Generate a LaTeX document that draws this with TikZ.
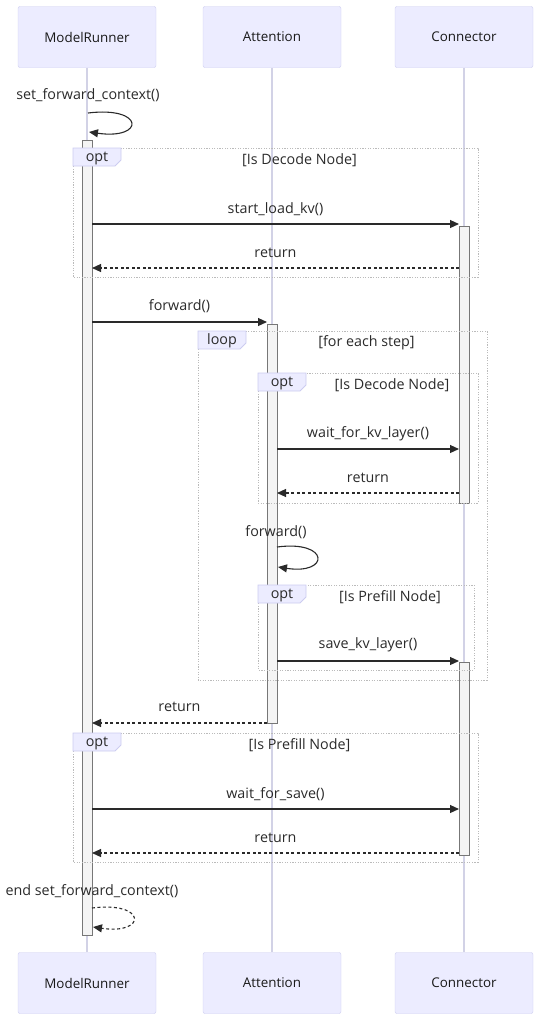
\documentclass[tikz,border=0pt]{standalone}
\usepackage{fontspec}
\setmainfont{Open Sans}
\usepackage{xcolor}
\usetikzlibrary{calc, arrows.meta, positioning}

\definecolor{actorfill}{HTML}{ECECFF}
\definecolor{actorline}{HTML}{CCCCF0}
\definecolor{lifecol}{HTML}{D2D2E6}
\definecolor{msgcol}{HTML}{2A2A2A}
\definecolor{actfill}{HTML}{F4F4F4}
\definecolor{actline}{HTML}{777777}
\definecolor{framecol}{HTML}{BBBBBB}

\tikzset{
	txt/.style = {font = \fontsize{14.3}{16}\selectfont, text = msgcol, inner sep = 0},
	actor/.style = {txt, font = \fontsize{13.4}{15}\selectfont, text = black!90, draw = actorline, fill = actorfill, rounded corners = 2pt, minimum width = 138, minimum height = 61},
	lifeline/.style = {draw = lifecol, line width = 1.3pt},
	activation/.style = {draw = actline, fill = actfill, line width = 0.8pt},
	frame/.style = {draw = framecol, line width = 0.9pt, dash pattern = on 1.2pt off 1.4pt},
	tag/.style = {draw = actorline, fill = actorfill, line width = 0.8pt},
	msg/.style = {draw = msgcol, line width = 1.1pt, -{Triangle[length = 9pt, width = 8pt]}},
	reply/.style = {msg, dash pattern = on 3pt off 2.5pt},
}

\begin{document}
\begin{tikzpicture}[x = 1pt, y = -1pt]
		\def\xM{87};
		\def\xA{272};
		\def\xC{464};
		\def\w{5};
		
		\def\frag#1#2#3#4#5#6#7{
			\draw [frame] (#2,#3) rectangle (#4,#5);
			\draw [tag] (#2,#3) -- ++(48,0) -- ++(0,12) -- ++(-6,6) -- ++(-42,0) -- cycle;
			\node [txt] (#1 kind) at ($ (#2,#3) + (24,10) $) {#6};
			\node [txt] (#1 cond) at ({(#2 + 48 + #4)/2}, #3 + 12) {#7};
		}
		
		\useasboundingbox (0,0) rectangle (543,1021);
		
		\node [actor] (runner top) at (\xM,37) {ModelRunner};
		\node [actor] (attention top) at (\xA,37) {Attention};
		\node [actor] (connector top) at (\xC,37) {Connector};
		\node [actor] (runner bottom) at (\xM,983) {ModelRunner};
		\node [actor] (attention bottom) at (\xA,983) {Attention};
		\node [actor] (connector bottom) at (\xC,983) {Connector};
		
		\draw [lifeline] (runner top) -- (runner bottom);
		\draw [lifeline] (attention top) -- (attention bottom);
		\draw [lifeline] (connector top) -- (connector bottom);
		
		\draw [activation] (\xM-\w,140) rectangle (\xM+\w,935);
		\draw [activation] (\xC-\w,226) rectangle (\xC+\w,503);
		\draw [activation] (\xA-\w,324) rectangle (\xA+\w,723);
		\draw [activation] (\xC-\w,662) rectangle (\xC+\w,855);
		
		\frag{decode1}{73}{148}{478}{277}{opt}{[Is Decode Node]};
		\frag{steps}{198}{331}{487}{680}{loop}{[for each step]};
		\frag{decode2}{258}{373}{478}{503}{opt}{[Is Decode Node]};
		\frag{prefill1}{258}{585}{474}{670}{opt}{[Is Prefill Node]};
		\frag{prefill2}{73}{733}{478}{862}{opt}{[Is Prefill Node]};
		
		% ModelRunner enters the context
		\coordinate (ctx out) at (\xM+1,113);
		\coordinate (ctx in) at (\xM+2,132);
		\node [txt] (ctx label) at (\xM+1,95) {set\_forward\_context()};
		\draw [msg] (ctx out) .. controls (\xM+58,106) and (\xM+58,140) .. (ctx in);
		
		\coordinate (load from) at (\xM+\w,224);
		\coordinate (load to) at (\xC-\w,224);
		\draw [msg] (load from) -- (load to) node [txt, midway, yshift = 15] (load label) {start\_load\_kv()};
		
		\coordinate (load back from) at (\xC-\w,268);
		\coordinate (load back to) at (\xM+\w,268);
		\draw [reply] (load back from) -- (load back to) node [txt, midway, yshift = 15] (load back label) {return};
		
		\coordinate (fwd from) at (\xM+\w,322);
		\coordinate (fwd to) at (\xA-\w,322);
		\draw [msg] (fwd from) -- (fwd to) node [txt, midway, yshift = 16] (fwd label) {forward()};
		
		\coordinate (wait from) at (\xA+\w,449);
		\coordinate (wait to) at (\xC-\w,449);
		\draw [msg] (wait from) -- (wait to) node [txt, midway, yshift = 15] (wait label) {wait\_for\_kv\_layer()};
		
		\coordinate (wait back from) at (\xC-\w,493);
		\coordinate (wait back to) at (\xA+\w,493);
		\draw [reply] (wait back from) -- (wait back to) node [txt, midway, yshift = 15] (wait back label) {return};
		
		% Attention runs its own forward
		\coordinate (self out) at (\xA+\w,547);
		\coordinate (self in) at (\xA+\w+1,567);
		\node [txt] (self label) at (\xA+4,532) {forward()};
		\draw [msg] (self out) .. controls (\xA+58,540) and (\xA+58,575) .. (self in);
		
		\coordinate (save from) at (\xA+\w,661);
		\coordinate (save to) at (\xC-\w,661);
		\draw [msg] (save from) -- (save to) node [txt, midway, yshift = 16] (save label) {save\_kv\_layer()};
		
		\coordinate (fwd back from) at (\xA-\w,723);
		\coordinate (fwd back to) at (\xM+\w,723);
		\draw [reply] (fwd back from) -- (fwd back to) node [txt, midway, yshift = 16] (fwd back label) {return};
		
		\coordinate (flush from) at (\xM+\w,809);
		\coordinate (flush to) at (\xC-\w,809);
		\draw [msg] (flush from) -- (flush to) node [txt, midway, yshift = 15] (flush label) {wait\_for\_save()};
		
		\coordinate (flush back from) at (\xC-\w,853);
		\coordinate (flush back to) at (\xM+\w,853);
		\draw [reply] (flush back from) -- (flush back to) node [txt, midway, yshift = 15] (flush back label) {return};
		
		% ModelRunner leaves the context
		\coordinate (end out) at (\xM+\w,908);
		\coordinate (end in) at (\xM+\w+1,927);
		\node [txt] (end label) at (\xM+5,891) {end set\_forward\_context()};
		\draw [reply] (end out) .. controls (\xM+60,901) and (\xM+60,935) .. (end in);
	\end{tikzpicture}
\end{document}
